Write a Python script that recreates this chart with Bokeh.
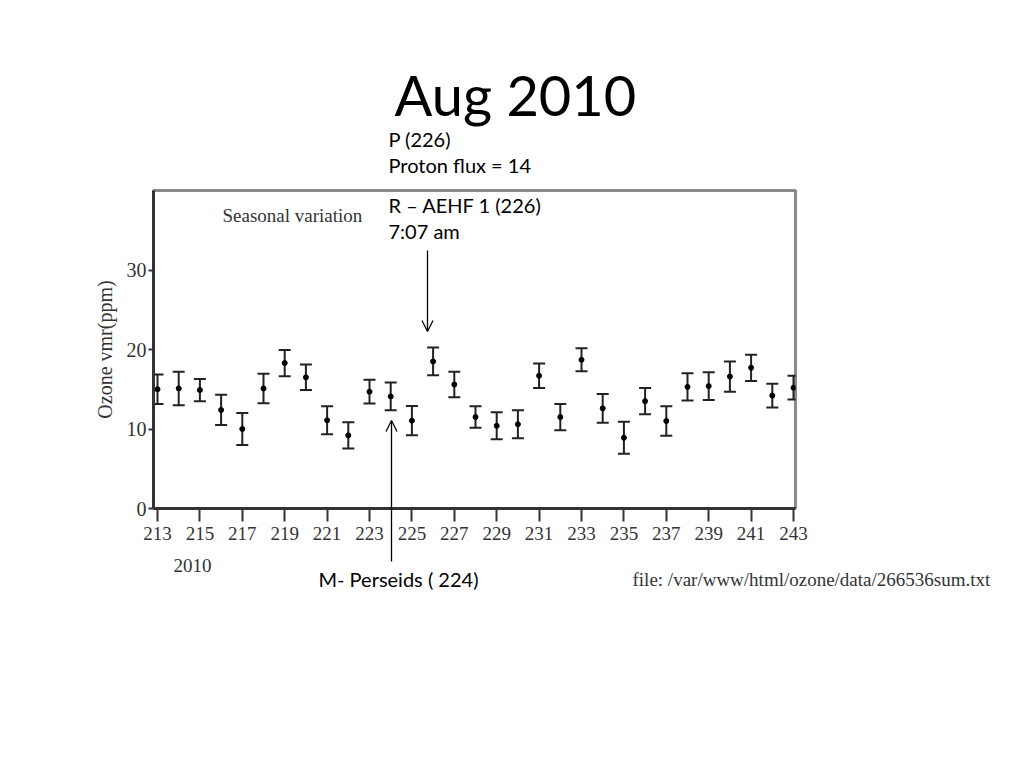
from bokeh.plotting import figure
from bokeh.models import (ColumnDataSource, Whisker, Range1d, Label, Arrow,
                          OpenHead, TeeHead, FixedTicker)
from bokeh.embed import file_html
from bokeh.resources import INLINE

# ---- data ----
days = list(range(213, 244))
ozone = [15.0, 15.1, 14.9, 12.4, 10.0, 15.1, 18.3, 16.5, 11.1, 9.2, 14.7,
         14.1, 11.05, 18.5, 15.6, 11.5, 10.4, 10.6, 16.7, 11.5, 18.7, 12.6,
         8.9, 13.5, 11.0, 15.3, 15.4, 16.6, 17.7, 14.2, 15.2]
err = [1.85, 2.1, 1.4, 1.9, 2.0, 1.85, 1.65, 1.6, 1.75, 1.65, 1.5,
       1.75, 1.85, 1.75, 1.6, 1.35, 1.7, 1.75, 1.55, 1.65, 1.45, 1.8,
       2.0, 1.65, 1.85, 1.7, 1.75, 1.9, 1.65, 1.5, 1.5]
x_ticks = list(range(213, 244, 2))
y_ticks = [0, 10, 20, 30]

title_text = "Aug 2010"
ylabel = "Ozone vmr(ppm)"
inner_title = "Seasonal variation"
year_text = "2010"
file_text = "file: /var/www/html/ozone/data/266536sum.txt"
note_p = ["P (226)", "Proton flux = 14"]
note_r = ["R \u2013 AEHF 1 (226)", "7:07 am"]
note_m = "M- Perseids ( 224)"

# ---- layout ----
W, H = 1008, 752
FL, FR, FT, FB = 153, 795, 190, 508   # frame edges in canvas px
X0 = 213 - 4 / 21.2
X1 = 213 + (795 - 157) / 21.2
Y0, Y1 = 0, 40


def dx(px):
    return X0 + (px - FL) * (X1 - X0) / (FR - FL)


def dy(py):
    return Y0 + (Y1 - Y0) * (FB - py) / (FB - FT)


p = figure(width=W, height=H, output_backend="svg", toolbar_location=None,
           x_range=Range1d(X0, X1), y_range=Range1d(Y0, Y1),
           min_border_left=FL, min_border_top=FT,
           min_border_right=W - FR, min_border_bottom=H - FB)
p.background_fill_color = "white"
p.border_fill_color = "white"
p.outline_line_color = "#8a8a8a"
p.outline_line_width = 3
p.xgrid.visible = False
p.ygrid.visible = False

for ax in (p.xaxis[0], p.yaxis[0]):
    ax.axis_line_color = "#333333"
    ax.axis_line_width = 3
    ax.major_tick_line_color = "#333333"
    ax.major_tick_line_width = 2
    ax.major_tick_in = 0
    ax.minor_tick_out = 0
    ax.minor_tick_in = 0
    ax.major_label_text_font = "Liberation Serif"
    ax.major_label_text_color = "#333333"

p.xaxis.major_tick_out = 13
p.yaxis.major_tick_out = 5
p.xaxis.major_label_text_font_size = "19px"
p.yaxis.major_label_text_font_size = "20px"

# arrow tail below the frame drawn as a long minor tick at the arrow's x
arrow_m_x = dx(391)
tail = 561 - FB
p.xaxis.ticker = FixedTicker(ticks=x_ticks, minor_ticks=[arrow_m_x])
p.xaxis.minor_tick_out = tail
p.xaxis.minor_tick_line_color = "black"
p.xaxis.minor_tick_line_width = 1.3
p.xaxis.major_label_standoff = 5 - (tail - 13)
p.yaxis.ticker = FixedTicker(ticks=y_ticks)
p.yaxis.major_label_standoff = 2
p.yaxis.axis_label = ylabel
p.yaxis.axis_label_text_font = "Liberation Serif"
p.yaxis.axis_label_text_font_size = "20px"
p.yaxis.axis_label_text_font_style = "normal"
p.yaxis.axis_label_text_color = "#333333"
p.yaxis.axis_label_standoff = 8

lower = [v - e for v, e in zip(ozone, err)]
upper = [v + e for v, e in zip(ozone, err)]
src = ColumnDataSource(dict(day=days, ozone=ozone, lower=lower, upper=upper))

wh = Whisker(base="day", lower="lower", upper="upper", source=src,
             dimension="height", line_color="#222222", line_width=2,
             upper_head=TeeHead(size=12, line_color="#222222", line_width=2),
             lower_head=TeeHead(size=12, line_color="#222222", line_width=2))
p.add_layout(wh)
p.scatter("day", "ozone", source=src, size=5, color="black")


def add_label(text, px, py, font, size, place="center", color="black"):
    # py is the wanted baseline; compensate the renderer's baseline shift
    lab = Label(x=dx(px), y=dy(py - 0.37 * size), text=text, text_font=font,
                text_font_size=f"{size}px", text_align="left",
                text_baseline="alphabetic", text_font_style="normal",
                text_color=color)
    if place == "center":
        p.add_layout(lab)
    else:
        p.add_layout(lab, place)


add_label(title_text, 394, 115, "Lato", 56, place="above")
add_label(note_p[0], 388, 146, "Lato", 20, place="above")
add_label(note_p[1], 388, 172, "Lato", 20, place="above")
add_label(note_r[0], 388, 212, "Lato", 20)
add_label(note_r[1], 388, 238, "Lato", 20)
add_label(inner_title, 222, 222, "Liberation Serif", 19, color="#333333")
add_label(year_text, 173, 572, "Liberation Serif", 19, place="below",
          color="#333333")
add_label(note_m, 318, 586, "Lato", 20, place="below")
add_label(file_text, 632, 586, "Liberation Serif", 19, place="below",
          color="#333333")

p.add_layout(Arrow(x_start=dx(427), y_start=dy(250), x_end=dx(427),
                   y_end=dy(331), line_width=1.3, line_color="black",
                   end=OpenHead(size=11, line_width=1.3, line_color="black")))
p.add_layout(Arrow(x_start=arrow_m_x, y_start=dy(561), x_end=arrow_m_x,
                   y_end=dy(420), line_width=1.3, line_color="black",
                   end=OpenHead(size=11, line_width=1.3, line_color="black")))

open("out.html", "w").write(file_html(p, INLINE))
